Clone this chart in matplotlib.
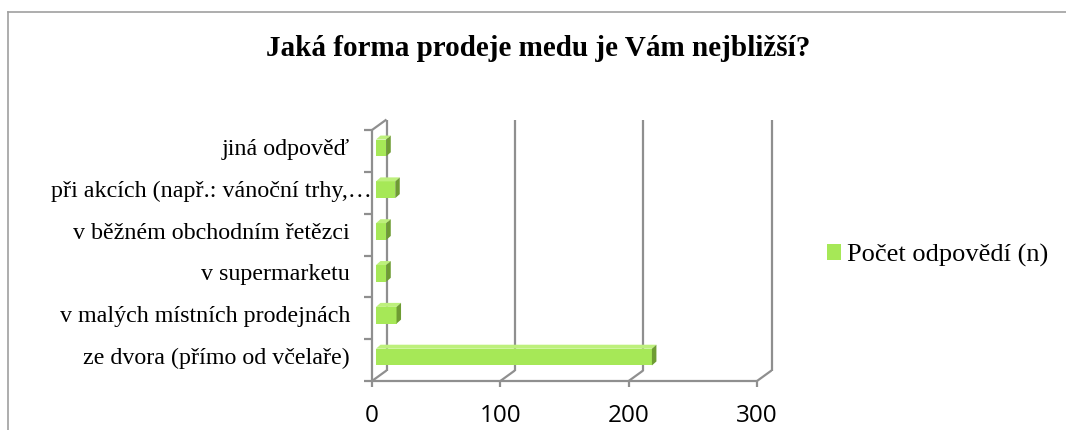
import matplotlib
matplotlib.use("Agg")
import matplotlib.pyplot as plt
from matplotlib.patches import Polygon
from matplotlib.lines import Line2D

# ---- data ----
categories = [
    "ze dvora (přímo od včelaře)",
    "v malých místních prodejnách",
    "v supermarketu",
    "v běžném obchodním řetězci",
    "při akcích (např.: vánoční trhy,…",
    "jiná odpověď",
]
values = [215, 16, 8, 8, 15, 8]
series_name = "Počet odpovědí (n)"
title = "Jaká forma prodeje medu je Vám nejbližší?"
xticks = [0, 100, 200, 300]
xticklabels = ["0", "100", "200", "300"]

# ---- style ----
W, H = 1066, 430
front_c = "#A6E857"
top_c = "#BDF07C"
side_c = "#6E9C33"
grid_c = "#8F8F8F"
serif = "Liberation Serif"
sans = "Open Sans"

fig = plt.figure(figsize=(W / 100, H / 100), dpi=100)
ax = fig.add_axes([372 / W, 49 / H, 385 / W, 251 / H])
xmin, xmax = 0, 300
ymin, ymax = -0.5, len(categories) - 0.5
ax.set_xlim(xmin, xmax)
ax.set_ylim(ymin, ymax)
ax.axis("off")

sx = (xmax - xmin) / 385.0   # data per pixel (x)
sy = (ymax - ymin) / 251.0   # data per pixel (y)

DX, DY = 14.5 * sx, 10.5 * sy        # wall depth
bfx, bfy = 4 * sx, 3 * sy            # bar front-face offset
bdx, bdy = 4.5 * sx, 4 * sy          # bar depth
bh = 0.40
lw = 1.6

def line(xs, ys, z=1):
    ax.add_line(Line2D(xs, ys, color=grid_c, lw=lw, clip_on=False, zorder=z,
                       solid_capstyle="butt"))

# back wall gridlines + diagonals
for xt in xticks:
    if xt > 0:
        line([xt + DX, xt + DX], [ymin + DY, ymax + DY])
    line([xt, xt + DX], [ymin, ymin + DY])
# back-left vertical & top-left diagonal
line([DX, DX], [ymin + DY, ymax + DY])
line([0, DX], [ymax, ymax + DY])
# front axes
line([0, 0], [ymin, ymax], z=4)
line([0, xmax], [ymin, ymin], z=4)
for i in range(len(categories) + 1):
    yy = ymin + i
    line([-8 * sx, 0], [yy, yy], z=4)
for xt in xticks:
    line([xt, xt], [ymin, ymin - 6 * sy], z=4)

# bars
ypos = list(range(len(categories)))
bars = ax.barh([y + bfy for y in ypos], values, left=bfx, height=bh,
               color=front_c, zorder=3, label=series_name)
for y, v in zip(ypos, values):
    x0 = bfx
    x1 = bfx + v
    yt = y + bfy + bh / 2
    yb = y + bfy - bh / 2
    ax.add_patch(Polygon([(x0, yt), (x1, yt), (x1 + bdx, yt + bdy), (x0 + bdx, yt + bdy)],
                         closed=True, facecolor=top_c, edgecolor="none", zorder=3, clip_on=False))
    ax.add_patch(Polygon([(x1, yb), (x1, yt), (x1 + bdx, yt + bdy), (x1 + bdx, yb + bdy)],
                         closed=True, facecolor=side_c, edgecolor="none", zorder=3, clip_on=False))

# category labels (the truncated one runs up to the axis, as in the original)
for y, lab in zip(ypos, categories):
    xr = (0 if lab.endswith("…") else -22) * sx
    ax.text(xr, y + 1.5 * sy, lab, ha="right", va="center",
            fontsize=17.3, family=serif, color="black", clip_on=False, zorder=2)

# x tick labels
for xt, lab in zip(xticks, xticklabels):
    ax.text(xt, ymin - 35 * sy, lab, ha="center", va="center",
            fontsize=17.5, family=sans, color="black", clip_on=False)

# title
fig.text(538 / W, 1 - 48 / H, title, ha="center", va="center",
         fontsize=21, fontweight="bold", family=serif)

# legend
leg = ax.legend(handles=[bars], labels=[series_name], loc="center left",
                bbox_to_anchor=(827 / W, 1 - 255 / H), bbox_transform=fig.transFigure,
                frameon=False, prop={"family": serif, "size": 19},
                handlelength=0.53, handleheight=0.53, handletextpad=0.23,
                borderpad=0, borderaxespad=0)

# outer border (top and left)
fig.add_artist(Line2D([7.5 / W, 1], [1 - 12 / H, 1 - 12 / H], transform=fig.transFigure,
                      color="#A0A0A0", lw=1.2))
fig.add_artist(Line2D([7.5 / W, 7.5 / W], [0, 1 - 12 / H], transform=fig.transFigure,
                      color="#A0A0A0", lw=1.2))

fig.savefig("out.png", dpi=100)
